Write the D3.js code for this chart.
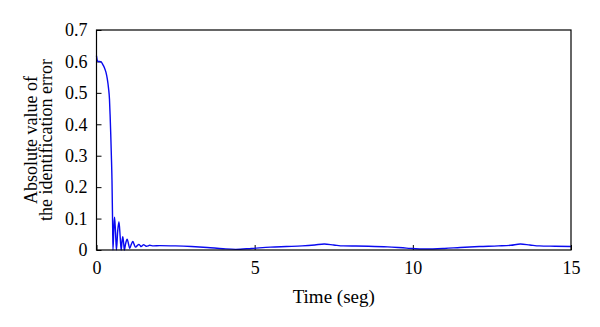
<!DOCTYPE html>
<html>
<head>
<meta charset="utf-8">
<script src="https://cdn.jsdelivr.net/npm/d3@7"></script>
<style>
  html, body { margin: 0; padding: 0; background: #fff; }
  svg { display: block; font-family: "Liberation Serif", "DejaVu Serif", serif; }
</style>
</head>
<body>
<svg id="chart" width="600" height="327"></svg>
<script>
// Identification error over time (absolute value)
const timeS = [
  0, 0.02, 0.05, 0.1, 0.15, 0.2, 0.25, 0.3, 0.34, 0.38, 0.41, 0.43, 0.45, 0.47, 0.49, 0.5, 0.51, 0.52,
  0.55, 0.57, 0.60, 0.63, 0.67, 0.71, 0.75, 0.78, 0.81, 0.83, 0.86, 0.88, 0.92, 0.97, 1.01, 1.05,
  1.10, 1.15, 1.19, 1.23, 1.28, 1.34, 1.38, 1.41, 1.45, 1.49, 1.54, 1.58, 1.63, 1.68, 1.8, 2.0,
  2.5, 3.0, 3.5, 4.0, 4.4, 4.9, 5.5, 6.0, 6.5, 6.9, 7.2, 7.5, 7.8, 8.6, 9.2, 9.8, 10.4, 11.0,
  11.5, 12.1, 12.7, 13.1, 13.4, 13.7, 14.0, 14.5, 15
];
const errorAbs = [
  0.618, 0.605, 0.600, 0.600, 0.598, 0.590, 0.580, 0.565, 0.545, 0.515, 0.48, 0.43, 0.37, 0.30, 0.22, 0.15, 0.08, 0.0,
  0.07, 0.104, 0.06, 0.0, 0.06, 0.09, 0.04, 0.0, 0.03, 0.042, 0.02, 0.0, 0.02, 0.034, 0.02, 0.005,
  0.018, 0.027, 0.018, 0.009, 0.013, 0.018, 0.014, 0.011, 0.014, 0.017, 0.014, 0.012, 0.013, 0.015, 0.013, 0.014,
  0.013, 0.011, 0.008, 0.004, 0.002, 0.005, 0.009, 0.011, 0.013, 0.016, 0.019, 0.016, 0.013, 0.012, 0.010, 0.006, 0.003, 0.005,
  0.008, 0.011, 0.013, 0.015, 0.019, 0.016, 0.013, 0.012, 0.011
];
const xTicks = [0, 5, 10, 15];
const yTicks = [0, 0.1, 0.2, 0.3, 0.4, 0.5, 0.6, 0.7];
const yLabelLines = ["Absolute value of", "the identification error"];
const xLabel = "Time (seg)";

const FONT = "'Liberation Serif', 'DejaVu Serif', serif";
const svg = d3.select("#chart");
const plot = { left: 96.5, right: 571, top: 30, bottom: 250 };

const x = d3.scaleLinear().domain([0, 15]).range([plot.left, plot.right]);
const y = d3.scaleLinear().domain([0, 0.7]).range([plot.bottom, plot.top]);

// Axes with inward ticks
const xAxis = d3.axisBottom(x).tickValues(xTicks).tickSizeInner(-5).tickSizeOuter(0)
  .tickPadding(11).tickFormat(d3.format("d"));
const yAxis = d3.axisLeft(y).tickValues(yTicks).tickSizeInner(-5).tickSizeOuter(0)
  .tickPadding(9).tickFormat(d => d === 0 ? "0" : d3.format(".1f")(d));

const gx = svg.append("g").attr("transform", `translate(0,${plot.bottom})`).call(xAxis);
const gy = svg.append("g").attr("transform", `translate(${plot.left},0)`).call(yAxis);
[gx, gy].forEach(g => {
  g.attr("font-family", FONT).attr("font-size", 18);
  g.select(".domain").remove();
  g.selectAll(".tick line").attr("stroke", "#000").attr("stroke-width", 1);
  g.selectAll(".tick text").attr("fill", "#000");
});

// Data line
const line = d3.line()
  .x((d, i) => x(timeS[i]))
  .y(d => y(d))
  .curve(d3.curveMonotoneX);

svg.append("path")
  .datum(errorAbs)
  .attr("d", line)
  .attr("fill", "none")
  .attr("stroke", "#0a0af0")
  .attr("stroke-width", 1.4)
  .attr("stroke-linejoin", "round");

// Box around the plot area
svg.append("rect")
  .attr("x", plot.left).attr("y", plot.top)
  .attr("width", plot.right - plot.left).attr("height", plot.bottom - plot.top)
  .attr("fill", "none").attr("stroke", "#000").attr("stroke-width", 1.2);

// Axis titles
svg.append("text")
  .attr("x", (plot.left + plot.right) / 2).attr("y", 303)
  .attr("text-anchor", "middle").attr("font-size", 19).attr("font-family", FONT)
  .text(xLabel);

const yMid = (plot.top + plot.bottom) / 2;
const ylab = svg.append("text")
  .attr("transform", `translate(0,${yMid}) rotate(-90)`)
  .attr("text-anchor", "middle").attr("font-size", 18).attr("font-family", FONT);
yLabelLines.forEach((t, i) => {
  ylab.append("tspan").attr("x", 0).attr("y", 37 + i * 14.5).text(t);
});
</script>
</body>
</html>
